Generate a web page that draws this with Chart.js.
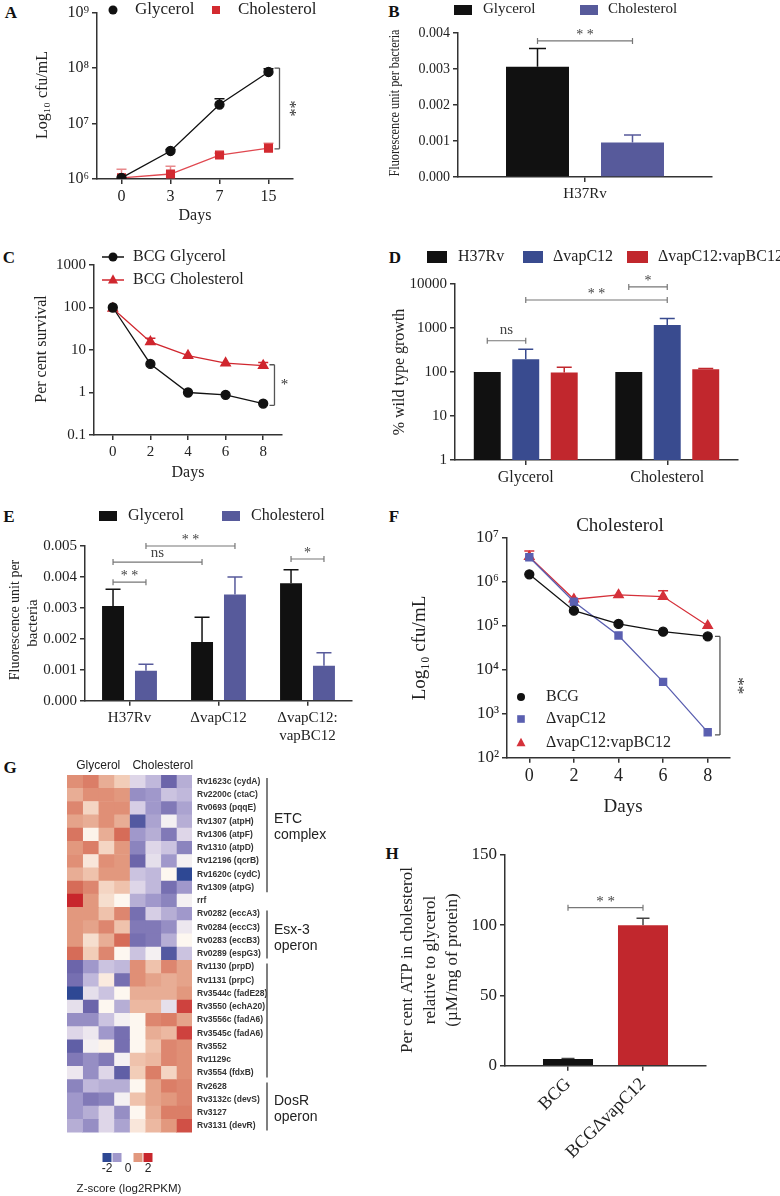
<!DOCTYPE html>
<html>
<head>
<meta charset="utf-8">
<script src="https://cdn.jsdelivr.net/npm/chart.js@4.4.1/dist/chart.umd.min.js"></script>
<style>
  body { margin: 0; background: #fff; }
  #page { position: relative; width: 780px; height: 1196px; overflow: hidden; background: #fff; }
  canvas { position: absolute; }
  .tag { position: absolute; font: bold 17px "Liberation Serif", serif; line-height: 1; transform: translate(-50%, -50%); color: #111; }
</style>
</head>
<body>
<div id="page">
  <div class="tag" style="left:11px;top:12px">A</div>
  <div class="tag" style="left:394px;top:11px">B</div>
  <div class="tag" style="left:9px;top:257px">C</div>
  <div class="tag" style="left:395px;top:257px">D</div>
  <div class="tag" style="left:9px;top:516px">E</div>
  <div class="tag" style="left:394px;top:516px">F</div>
  <div class="tag" style="left:10px;top:767px">G</div>
  <div class="tag" style="left:392px;top:853px">H</div>
</div>
<script>
const serif = '"Liberation Serif", "Times New Roman", serif';
const sans = '"Liberation Sans", Arial, sans-serif';

// A - growth on glycerol / cholesterol
const daysA = ['0', '3', '7', '15'];
const glyA = [1.05e6, 3.2e6, 2.2e7, 8.5e7];
const glyAErr = [null, 3.4e6, 2.8e7, 9.7e7];
const choA = [1.05e6, 1.23e6, 2.7e6, 3.6e6];
const choAErr = [1.5e6, 1.7e6, 2.9e6, 4.4e6];
const ticksA = [1e6, 1e7, 1e8, 1e9];

// B
const strainB = ['H37Rv'];
const glyB = [0.00306];
const glyBErr = [0.00357];
const choB = [0.00096];
const choBErr = [0.00117];
const ticksB = [0, 0.001, 0.002, 0.003, 0.004];

// C
const daysC = [0, 2, 4, 6, 8];
const glyC = [100, 4.7, 1.0, 0.88, 0.55];
const choC = [95, 15.5, 7.4, 4.9, 4.3];
const choCErr = [null, 19, null, null, 5.1];
const ticksC = [0.1, 1, 10, 100, 1000];

// D
const groupsD = ['Glycerol', 'Cholesterol'];
const wtD = [100, 100];
const vapD = [195, 1170];
const vapDErr = [330, 1650];
const compD = [98, 116];
const compDErr = [128, 120];
const ticksD = [1, 10, 100, 1000, 10000];

// E
const strainsE = ['H37Rv', 'ΔvapC12', ['ΔvapC12:', 'vapBC12']];
const glyE = [0.00306, 0.0019, 0.0038];
const glyEErr = [0.0036, 0.0027, 0.00423];
const choE = [0.00097, 0.00343, 0.00113];
const choEErr = [0.00118, 0.0040, 0.00155];
const ticksE = [0, 0.001, 0.002, 0.003, 0.004, 0.005];

// F
const daysF = [0, 2, 4, 6, 8];
const bcgF = [1.47e6, 2.2e5, 1.1e5, 7.3e4, 5.7e4];
const vapF = [3.6e6, 3.5e5, 6.0e4, 5.3e3, 380];
const compF = [3.7e6, 4.0e5, 5.0e5, 4.6e5, 1.0e5];
const compFErr = [5.0e6, null, null, 6.2e5, null];
const ticksF = [1e2, 1e3, 1e4, 1e5, 1e6, 1e7];

// G - heatmap, 4 glycerol + 4 cholesterol columns
const genes = ['Rv1623c (cydA)', 'Rv2200c (ctaC)', 'Rv0693 (pqqE)', 'Rv1307 (atpH)', 'Rv1306 (atpF)',
  'Rv1310 (atpD)', 'Rv12196 (qcrB)', 'Rv1620c (cydC)', 'Rv1309 (atpG)', 'rrf', 'Rv0282 (eccA3)',
  'Rv0284 (eccC3)', 'Rv0283 (eccB3)', 'Rv0289 (espG3)', 'Rv1130 (prpD)', 'Rv1131 (prpC)',
  'Rv3544c (fadE28)', 'Rv3550 (echA20)', 'Rv3556c (fadA6)', 'Rv3545c (fadA6)', 'Rv3552', 'Rv1129c',
  'Rv3554 (fdxB)', 'Rv2628', 'Rv3132c (devS)', 'Rv3127', 'Rv3131 (devR)'];
const zScores = [
  [1.1, 1.3, 0.8, 0.5, -0.4, -0.7, -1.5, -0.8],
  [0.8, 1.1, 1.1, 1.0, -1.1, -1.0, -0.6, -0.7],
  [1.2, 0.4, 1.1, 1.1, -0.5, -1.0, -1.3, -0.9],
  [0.9, 0.8, 1.1, 0.8, -1.7, -0.9, -0.1, -0.8],
  [1.4, 0.05, 0.8, 1.5, -1.0, -0.8, -1.3, -0.4],
  [1.0, 1.3, 0.4, 1.0, -1.2, -0.4, -0.6, -1.2],
  [1.1, 0.2, 1.1, 1.0, -1.5, -0.3, -1.0, -0.1],
  [0.8, 0.6, 1.0, 1.0, -0.6, -0.7, 0.0, -2.0],
  [1.5, 1.2, 0.4, 0.6, -0.4, -0.7, -1.4, -1.0],
  [2.0, 1.0, 0.3, 0.0, -0.8, -1.0, -1.2, -0.1],
  [1.0, 1.0, 0.6, 1.2, -1.4, -0.5, -0.8, -1.0],
  [1.0, 0.9, 1.2, 0.6, -1.3, -1.3, -1.1, -0.2],
  [1.0, 0.3, 0.8, 1.5, -1.4, -1.3, -0.8, 0.0],
  [1.5, 0.5, 1.2, 0.0, -0.6, -0.1, -1.7, -0.6],
  [-1.5, -1.0, -0.6, -0.7, 1.1, 0.6, 1.2, 0.9],
  [-1.4, -0.7, 0.15, -1.4, 1.1, 0.9, 0.8, 0.9],
  [-2.0, -0.3, -0.6, 0.0, 0.8, 0.8, 0.8, 1.0],
  [-0.3, -1.5, 0.0, -0.8, 0.7, 0.7, -0.3, 1.8],
  [-1.1, -1.1, -0.6, -0.1, 0.0, 1.2, 1.3, 0.9],
  [-0.4, -0.2, -1.0, -1.4, 0.0, 0.8, 0.7, 1.8],
  [-1.6, -0.1, 0.05, -1.4, 0.0, 0.6, 1.2, 1.1],
  [-1.3, -1.1, -1.3, -0.1, 0.6, 0.7, 1.2, 1.1],
  [-0.2, -1.1, -0.4, -1.6, 0.5, 1.3, 0.4, 1.1],
  [-1.2, -0.7, -0.8, -0.8, 0.0, 0.9, 1.3, 1.2],
  [-1.0, -1.3, -1.2, -0.1, 0.6, 0.9, 1.0, 1.2],
  [-1.0, -0.8, -0.4, -1.1, 0.0, 0.8, 1.3, 1.3],
  [-0.8, -1.1, -0.4, -0.9, 0.2, 0.7, 1.0, 1.7],
];
const geneGroups = [
  { name: ['ETC', 'complex'], from: 0, to: 8, at: 2.8 },
  { name: ['Esx-3', 'operon'], from: 10, to: 13, at: 11.2 },
  { name: [], from: 14, to: 22, at: 0 },
  { name: ['DosR', 'operon'], from: 23, to: 26, at: 24.1 },
];
const zLegend = [-2, -1, 1, 2];

// H
const strainsH = ['BCG', 'BCGΔvapC12'];
const atpH = [4.8, 100];
const atpHErr = [5.2, 105];
const ticksH = [0, 50, 100, 150];

Chart.defaults.font.family = serif;
Chart.defaults.color = '#222';
Chart.defaults.animation = false;
Chart.defaults.responsive = false;
Chart.defaults.devicePixelRatio = 1;
Chart.defaults.plugins.legend.display = false;
Chart.defaults.plugins.tooltip.enabled = false;

const page = document.getElementById('page');
function canvasAt(left, top, w, h) {
  const c = document.createElement('canvas');
  c.width = w;
  c.height = h;
  c.style.left = left + 'px';
  c.style.top = top + 'px';
  page.appendChild(c);
  return c;
}

const SUP = '⁰¹²³⁴⁵⁶⁷⁸⁹';
const pow10 = v => '10' + SUP[Math.round(Math.log10(v))];

function txt(ctx, s, x, y, o = {}) {
  ctx.save();
  ctx.font = (o.weight ? o.weight + ' ' : '') + (o.size || 16) + 'px ' + (o.family || serif);
  ctx.fillStyle = o.color || '#222';
  ctx.textAlign = o.align || 'center';
  ctx.textBaseline = 'middle';
  ctx.translate(x, y);
  if (o.rot) ctx.rotate(o.rot);
  if (o.fit) ctx.scale(Math.min(1, o.fit / ctx.measureText(s).width), 1);
  ctx.fillText(s, 0, 0);
  ctx.restore();
}

function mark(ctx, style, x, y, r, col) {
  ctx.save();
  ctx.fillStyle = col;
  ctx.beginPath();
  if (style === 'circle') ctx.arc(x, y, r, 0, Math.PI * 2);
  else if (style === 'rect') ctx.rect(x - r, y - r, 2 * r, 2 * r);
  else { ctx.moveTo(x, y - r * 1.15); ctx.lineTo(x + r, y + r * 0.7); ctx.lineTo(x - r, y + r * 0.7); ctx.closePath(); }
  ctx.fill();
  ctx.restore();
}

function box(ctx, x, y, w, h, col) {
  ctx.fillStyle = col;
  ctx.fillRect(x, y - h / 2, w, h);
}

function hSig(ctx, x1, x2, y, label, o = {}) {
  ctx.save();
  ctx.strokeStyle = '#777';
  ctx.lineWidth = 1.2;
  ctx.beginPath();
  ctx.moveTo(x1, y); ctx.lineTo(x2, y);
  ctx.moveTo(x1, y - 3); ctx.lineTo(x1, y + 3);
  ctx.moveTo(x2, y - 3); ctx.lineTo(x2, y + 3);
  ctx.stroke();
  ctx.restore();
  txt(ctx, label, (x1 + x2) / 2, y - (o.gap || 6), { size: o.size || 14, color: '#444' });
}

function vSig(ctx, x, y1, y2, label, o = {}) {
  ctx.save();
  ctx.strokeStyle = '#555';
  ctx.lineWidth = 1.3;
  ctx.beginPath();
  ctx.moveTo(x, y1); ctx.lineTo(x, y2);
  ctx.moveTo(x - 5, y1); ctx.lineTo(x, y1);
  ctx.moveTo(x - 5, y2); ctx.lineTo(x, y2);
  ctx.stroke();
  ctx.restore();
  txt(ctx, label, x + (o.gap || 10), (y1 + y2) / 2, { size: o.size || 16, rot: o.rot || 0, color: '#333' });
}

const barX = (chart, ds, i) => chart.getDatasetMeta(ds).data[i].x;
const deco = fn => ({ id: 'deco', afterDraw: c => fn(c, c.ctx) });

// upward error whiskers read from dataset.errUp
Chart.register({
  id: 'errorBars',
  beforeDatasetsDraw(chart) {
    const ctx = chart.ctx;
    chart.data.datasets.forEach((ds, i) => {
      if (!ds.errUp) return;
      const meta = chart.getDatasetMeta(i);
      const ys = chart.scales[meta.yAxisID];
      ctx.save();
      ctx.strokeStyle = ds.errColor || ds.borderColor || ds.backgroundColor;
      ctx.lineWidth = 1.5;
      meta.data.forEach((el, j) => {
        const v = ds.errUp[j];
        if (v == null) return;
        const top = ys.getPixelForValue(v);
        const half = (ds.errCap || 10) / 2;
        ctx.beginPath();
        ctx.moveTo(el.x, el.y); ctx.lineTo(el.x, top);
        ctx.moveTo(el.x - half, top); ctx.lineTo(el.x + half, top);
        ctx.stroke();
      });
      ctx.restore();
    });
  }
});

const tickList = list => s => { s.ticks = list.map(v => ({ value: v })); };

function yAxis(o) {
  const ax = {
    type: o.type || 'linear',
    min: o.min, max: o.max,
    afterFit: s => { s.width = o.w; },
    afterBuildTicks: tickList(o.list),
    border: { color: '#333', width: 1.5 },
    grid: { drawOnChartArea: false, color: '#333', lineWidth: 1.5, tickLength: 5 },
    ticks: { font: { size: o.size || 15 }, color: '#222', padding: 3, autoSkip: false },
  };
  if (o.fmt) ax.ticks.callback = o.fmt;
  return ax;
}

function xAxis(o) {
  const ax = {
    type: o.type || 'category',
    afterFit: s => { s.height = o.h; },
    border: { color: '#333', width: 1.5 },
    grid: { drawOnChartArea: false, offset: false, color: '#333', lineWidth: 1.5, tickLength: 5 },
    ticks: { font: { size: o.size || 15 }, color: '#222', padding: 3, autoSkip: false,
      maxRotation: o.rot || 0, minRotation: o.rot || 0 },
  };
  if (o.min !== undefined) { ax.min = o.min; ax.max = o.max; }
  if (o.list) ax.afterBuildTicks = tickList(o.list);
  if (o.fmt) ax.ticks.callback = o.fmt;
  if (o.offset !== undefined) ax.offset = o.offset;
  return ax;
}

const BLACK = '#111111';
const PURPLE = '#575a9b';

// ---------- A
new Chart(canvasAt(0, 0, 330, 225), {
  type: 'line',
  data: {
    labels: daysA,
    datasets: [
      { data: glyA, errUp: glyAErr, borderColor: BLACK, pointBackgroundColor: BLACK, pointBorderColor: BLACK,
        pointRadius: 4.5, borderWidth: 1.3 },
      { data: choA, errUp: choAErr, borderColor: '#e04850', errColor: '#e8898c', pointBackgroundColor: '#d32a30',
        pointBorderColor: '#d32a30', pointStyle: 'rect', pointRadius: 5.5, borderWidth: 1.3 },
    ],
  },
  options: {
    layout: { padding: { top: 11, right: 37 } },
    scales: {
      x: xAxis({ h: 46, size: 16, offset: true }),
      y: yAxis({ type: 'logarithmic', min: 1e6, max: 1e9, w: 97, list: ticksA, fmt: pow10, size: 16 }),
    },
  },
  plugins: [deco((c, ctx) => {
    const { x, y } = c.scales;
    txt(ctx, 'Log₁₀ cfu/mL', 43, 95, { rot: -Math.PI / 2, size: 16 });
    txt(ctx, 'Days', 195, 216, { size: 16 });
    mark(ctx, 'circle', 113, 10, 4.5, BLACK);
    txt(ctx, 'Glycerol', 135, 10, { align: 'left', size: 17 });
    mark(ctx, 'rect', 216, 10, 4, '#d32a30');
    txt(ctx, 'Cholesterol', 238, 10, { align: 'left', size: 17 });
    vSig(ctx, x.getPixelForValue(3) + 11, y.getPixelForValue(1e8), y.getPixelForValue(3.5e6), '**',
      { gap: 10, rot: Math.PI / 2, size: 16 });
  })],
});

// ---------- B
new Chart(canvasAt(380, 0, 400, 205), {
  type: 'bar',
  data: {
    labels: strainB,
    datasets: [
      { data: glyB, errUp: glyBErr, errCap: 17, backgroundColor: BLACK },
      { data: choB, errUp: choBErr, errCap: 17, backgroundColor: PURPLE },
    ],
  },
  options: {
    layout: { padding: { top: 33, right: 68 } },
    datasets: { bar: { categoryPercentage: 0.748, barPercentage: 0.663 } },
    scales: {
      x: xAxis({ h: 28, size: 15 }),
      y: yAxis({ min: 0, max: 0.004, w: 78, list: ticksB, fmt: v => v.toFixed(3), size: 14 }),
    },
  },
  plugins: [deco((c, ctx) => {
    txt(ctx, 'Fluorescence unit per bacteria', 15, 103, { rot: -Math.PI / 2, size: 14, fit: 147 });
    box(ctx, 74, 10, 18, 10, BLACK);
    txt(ctx, 'Glycerol', 103, 9, { align: 'left', size: 15 });
    box(ctx, 200, 10, 18, 10, PURPLE);
    txt(ctx, 'Cholesterol', 228, 9, { align: 'left', size: 15 });
    hSig(ctx, barX(c, 0, 0), barX(c, 1, 0), c.scales.y.getPixelForValue(0.00378), '* *');
  })],
});

// ---------- C
new Chart(canvasAt(0, 230, 330, 260), {
  type: 'line',
  data: {
    datasets: [
      { data: daysC.map((d, i) => ({ x: d, y: glyC[i] })), borderColor: BLACK, pointBackgroundColor: BLACK,
        pointBorderColor: BLACK, pointRadius: 4.5, borderWidth: 1.3 },
      { data: daysC.map((d, i) => ({ x: d, y: choC[i] })), errUp: choCErr, borderColor: '#d0262e',
        pointBackgroundColor: '#d0262e', pointBorderColor: '#d0262e', pointStyle: 'triangle', pointRadius: 5.5,
        borderWidth: 1.3 },
    ],
  },
  options: {
    layout: { padding: { top: 35, right: 48 } },
    scales: {
      x: xAxis({ type: 'linear', min: -1, max: 9, list: daysC, h: 55, size: 15 }),
      y: yAxis({ type: 'logarithmic', min: 0.1, max: 1000, w: 94, list: ticksC, fmt: v => String(v), size: 15 }),
    },
  },
  plugins: [deco((c, ctx) => {
    const { x, y } = c.scales;
    txt(ctx, 'Per cent survival', 42, 119, { rot: -Math.PI / 2, size: 16 });
    txt(ctx, 'Days', 188, 243, { size: 16 });
    ctx.save();
    ctx.lineWidth = 1.5;
    ctx.strokeStyle = BLACK;
    ctx.beginPath(); ctx.moveTo(102, 27); ctx.lineTo(124, 27); ctx.stroke();
    ctx.strokeStyle = '#d0262e';
    ctx.beginPath(); ctx.moveTo(102, 50); ctx.lineTo(124, 50); ctx.stroke();
    ctx.restore();
    mark(ctx, 'circle', 113, 27, 4.5, BLACK);
    mark(ctx, 'triangle', 113, 50, 5, '#d0262e');
    txt(ctx, 'BCG Glycerol', 133, 27, { align: 'left', size: 16 });
    txt(ctx, 'BCG Cholesterol', 133, 50, { align: 'left', size: 16 });
    vSig(ctx, x.getPixelForValue(8.6), y.getPixelForValue(4.5), y.getPixelForValue(0.5), '*', { gap: 10, size: 15 });
  })],
});

// ---------- D
const BLUE_D = '#394b8f';
const RED_D = '#c1272d';
new Chart(canvasAt(380, 240, 400, 260), {
  type: 'bar',
  data: {
    labels: groupsD,
    datasets: [
      { data: wtD, backgroundColor: BLACK },
      { data: vapD, errUp: vapDErr, errCap: 15, backgroundColor: BLUE_D },
      { data: compD, errUp: compDErr, errCap: 15, backgroundColor: RED_D },
    ],
  },
  options: {
    layout: { padding: { top: 44, right: 42 } },
    datasets: { bar: { categoryPercentage: 0.816, barPercentage: 0.7 } },
    scales: {
      x: xAxis({ h: 40, size: 16 }),
      y: yAxis({ type: 'logarithmic', min: 1, max: 10000, w: 75, list: ticksD, fmt: v => String(v), size: 15 }),
    },
  },
  plugins: [deco((c, ctx) => {
    const y = c.scales.y;
    txt(ctx, '% wild type growth', 20, 132, { rot: -Math.PI / 2, size: 16 });
    box(ctx, 47, 17, 20, 12, BLACK);
    txt(ctx, 'H37Rv', 78, 17, { align: 'left', size: 16 });
    box(ctx, 143, 17, 20, 12, BLUE_D);
    txt(ctx, 'ΔvapC12', 173, 17, { align: 'left', size: 16 });
    box(ctx, 247, 17, 21, 12, RED_D);
    txt(ctx, 'ΔvapC12:vapBC12', 278, 17, { align: 'left', size: 16 });
    hSig(ctx, barX(c, 0, 0), barX(c, 1, 0), y.getPixelForValue(513), 'ns', { gap: 11, size: 15 });
    hSig(ctx, barX(c, 1, 0), barX(c, 1, 1), y.getPixelForValue(4330), '* *');
    hSig(ctx, barX(c, 0, 1), barX(c, 1, 1), y.getPixelForValue(8560), '*');
  })],
});

// ---------- E
new Chart(canvasAt(0, 495, 370, 265), {
  type: 'bar',
  data: {
    labels: strainsE,
    datasets: [
      { data: glyE, errUp: glyEErr, errCap: 15, backgroundColor: BLACK },
      { data: choE, errUp: choEErr, errCap: 15, backgroundColor: PURPLE },
    ],
  },
  options: {
    layout: { padding: { top: 51, right: 18 } },
    datasets: { bar: { categoryPercentage: 0.74, barPercentage: 0.667 } },
    scales: {
      x: xAxis({ h: 59.3, size: 15 }),
      y: yAxis({ min: 0, max: 0.005, w: 85, list: ticksE, fmt: v => v.toFixed(3), size: 15 }),
    },
  },
  plugins: [deco((c, ctx) => {
    const y = c.scales.y;
    txt(ctx, 'Fluorescence unit per', 15, 125, { rot: -Math.PI / 2, size: 14 });
    txt(ctx, 'bacteria', 33, 128, { rot: -Math.PI / 2, size: 15 });
    box(ctx, 99, 21, 18, 10, BLACK);
    txt(ctx, 'Glycerol', 128, 21, { align: 'left', size: 16 });
    box(ctx, 222, 21, 18, 10, PURPLE);
    txt(ctx, 'Cholesterol', 251, 21, { align: 'left', size: 16 });
    hSig(ctx, barX(c, 1, 0), barX(c, 1, 1), y.getPixelForValue(0.005), '* *');
    hSig(ctx, barX(c, 0, 0), barX(c, 0, 1), y.getPixelForValue(0.00448), 'ns', { gap: 9, size: 15 });
    hSig(ctx, barX(c, 0, 0), barX(c, 1, 0), y.getPixelForValue(0.00383), '* *');
    hSig(ctx, barX(c, 0, 2), barX(c, 1, 2), y.getPixelForValue(0.00458), '*');
  })],
});

// ---------- F
const BLUE_F = '#5a5fb0';
const RED_F = '#d5313a';
new Chart(canvasAt(380, 500, 400, 330), {
  type: 'line',
  data: {
    datasets: [
      { data: daysF.map((d, i) => ({ x: d, y: bcgF[i] })), borderColor: BLACK, pointBackgroundColor: BLACK,
        pointBorderColor: BLACK, pointRadius: 4.5, borderWidth: 1.3 },
      { data: daysF.map((d, i) => ({ x: d, y: vapF[i] })), borderColor: BLUE_F, pointBackgroundColor: BLUE_F,
        pointBorderColor: BLUE_F, pointStyle: 'rect', pointRadius: 5, borderWidth: 1.3 },
      { data: daysF.map((d, i) => ({ x: d, y: compF[i] })), errUp: compFErr, borderColor: RED_F,
        pointBackgroundColor: RED_F, pointBorderColor: RED_F, pointStyle: 'triangle', pointRadius: 5.5,
        borderWidth: 1.3 },
    ],
  },
  options: {
    layout: { padding: { top: 37.7, right: 50 } },
    scales: {
      x: xAxis({ type: 'linear', min: -1, max: 9, list: daysF, h: 72.3, size: 18 }),
      y: yAxis({ type: 'logarithmic', min: 100, max: 1e7, w: 127, list: ticksF, fmt: pow10, size: 17 }),
    },
  },
  plugins: [deco((c, ctx) => {
    const { x, y } = c.scales;
    txt(ctx, 'Cholesterol', 240, 26, { size: 19 });
    txt(ctx, 'Log₁₀ cfu/mL', 40, 148, { rot: -Math.PI / 2, size: 19 });
    txt(ctx, 'Days', 243, 307, { size: 19 });
    mark(ctx, 'circle', 141, 197, 4, BLACK);
    mark(ctx, 'rect', 141, 219, 3.8, BLUE_F);
    mark(ctx, 'triangle', 141, 243, 4.5, RED_F);
    txt(ctx, 'BCG', 166, 197, { align: 'left', size: 16 });
    txt(ctx, 'ΔvapC12', 166, 219, { align: 'left', size: 16 });
    txt(ctx, 'ΔvapC12:vapBC12', 166, 243, { align: 'left', size: 16 });
    vSig(ctx, x.getPixelForValue(8.55), y.getPixelForValue(5.7e4), y.getPixelForValue(330), '**',
      { gap: 18, rot: Math.PI / 2, size: 17 });
  })],
});

// ---------- G heatmap
const negStops = [[252, 248, 245], [214, 206, 229], [160, 152, 203], [108, 101, 170], [46, 72, 148]];
const posStops = [[253, 247, 240], [242, 205, 184], [226, 152, 126], [214, 108, 88], [200, 38, 44]];
function zColor(v) {
  const stops = v < 0 ? negStops : posStops;
  const t = Math.min(Math.abs(v), 2) * 2;
  const k = Math.min(Math.floor(t), 3);
  const f = t - k;
  const rgb = stops[k].map((a, n) => Math.round(a + (stops[k + 1][n] - a) * f));
  return 'rgb(' + rgb.join(',') + ')';
}
const nCols = zScores[0].length;
new Chart(canvasAt(0, 755, 390, 441), {
  type: 'bar',
  data: {
    labels: genes,
    datasets: Array.from({ length: nCols }, (_, j) => ({
      data: genes.map(() => [j, j + 1]),
      backgroundColor: zScores.map(r => zColor(r[j])),
      borderWidth: 0,
    })),
  },
  options: {
    indexAxis: 'y',
    layout: { padding: { left: 67, top: 20, bottom: 63.4 } },
    datasets: { bar: { grouped: false, barPercentage: 1, categoryPercentage: 1 } },
    scales: {
      x: { type: 'linear', min: 0, max: nCols, display: false },
      y: {
        position: 'right',
        afterFit: s => { s.width = 198; },
        grid: { display: false, drawTicks: false, tickLength: 0 },
        border: { display: false },
        ticks: { autoSkip: false, padding: 5, color: '#333', font: { family: sans, size: 8.5, weight: 'bold' } },
      },
    },
  },
  plugins: [deco((c, ctx) => {
    const { x, y } = c.scales;
    const rowH = (c.chartArea.bottom - c.chartArea.top) / genes.length;
    txt(ctx, 'Glycerol', (x.getPixelForValue(0) + x.getPixelForValue(4)) / 2, 11, { family: sans, size: 12 });
    txt(ctx, 'Cholesterol', (x.getPixelForValue(4) + x.getPixelForValue(8)) / 2 + 2, 11, { family: sans, size: 12 });
    ctx.save();
    ctx.strokeStyle = '#555';
    ctx.lineWidth = 1.5;
    geneGroups.forEach(g => {
      ctx.beginPath();
      ctx.moveTo(267, y.getPixelForValue(g.from) - rowH / 2 + 3);
      ctx.lineTo(267, y.getPixelForValue(g.to) + rowH / 2 - 2);
      ctx.stroke();
    });
    ctx.restore();
    geneGroups.forEach(g => {
      g.name.forEach((s, n) => txt(ctx, s, 274, y.getPixelForValue(g.at) + n * 16.5,
        { family: sans, size: 14, align: 'left', color: '#222' }));
    });
    const lx = [107, 117, 138, 148];
    zLegend.forEach((v, n) => { ctx.fillStyle = zColor(v); ctx.fillRect(lx[n] - 4.5, 398, 9, 9); });
    txt(ctx, '-2', 107, 414, { family: sans, size: 12 });
    txt(ctx, '0', 128, 414, { family: sans, size: 12 });
    txt(ctx, '2', 148, 414, { family: sans, size: 12 });
    txt(ctx, 'Z-score (log2RPKM)', 129, 434, { family: sans, size: 11.5 });
  })],
});

// ---------- H
new Chart(canvasAt(380, 830, 400, 366), {
  type: 'bar',
  data: {
    datasets: [{
      data: atpH.map((v, i) => ({ x: i, y: v })),
      errUp: atpHErr, errColor: '#444', errCap: 13,
      backgroundColor: [BLACK, '#c1272d'],
      barPercentage: 0.667, categoryPercentage: 1,
    }],
  },
  options: {
    layout: { padding: { top: 25, right: 74 } },
    scales: {
      x: xAxis({ type: 'linear', min: -0.84, max: 1.84, list: [0, 1], fmt: (v, i) => strainsH[i], h: 130.3,
        size: 18, rot: 45, offset: false }),
      y: yAxis({ min: 0, max: 150, w: 125, list: ticksH, size: 17 }),
    },
  },
  plugins: [deco((c, ctx) => {
    txt(ctx, 'Per cent ATP in cholesterol', 28, 130, { rot: -Math.PI / 2, size: 17 });
    txt(ctx, 'relative to glycerol', 51, 130, { rot: -Math.PI / 2, size: 17 });
    txt(ctx, '(µM/mg of protein)', 73, 130, { rot: -Math.PI / 2, size: 17 });
    hSig(ctx, barX(c, 0, 0), barX(c, 0, 1), c.scales.y.getPixelForValue(112.5), '* *', { gap: 6, size: 15 });
  })],
});
</script>
</body>
</html>
